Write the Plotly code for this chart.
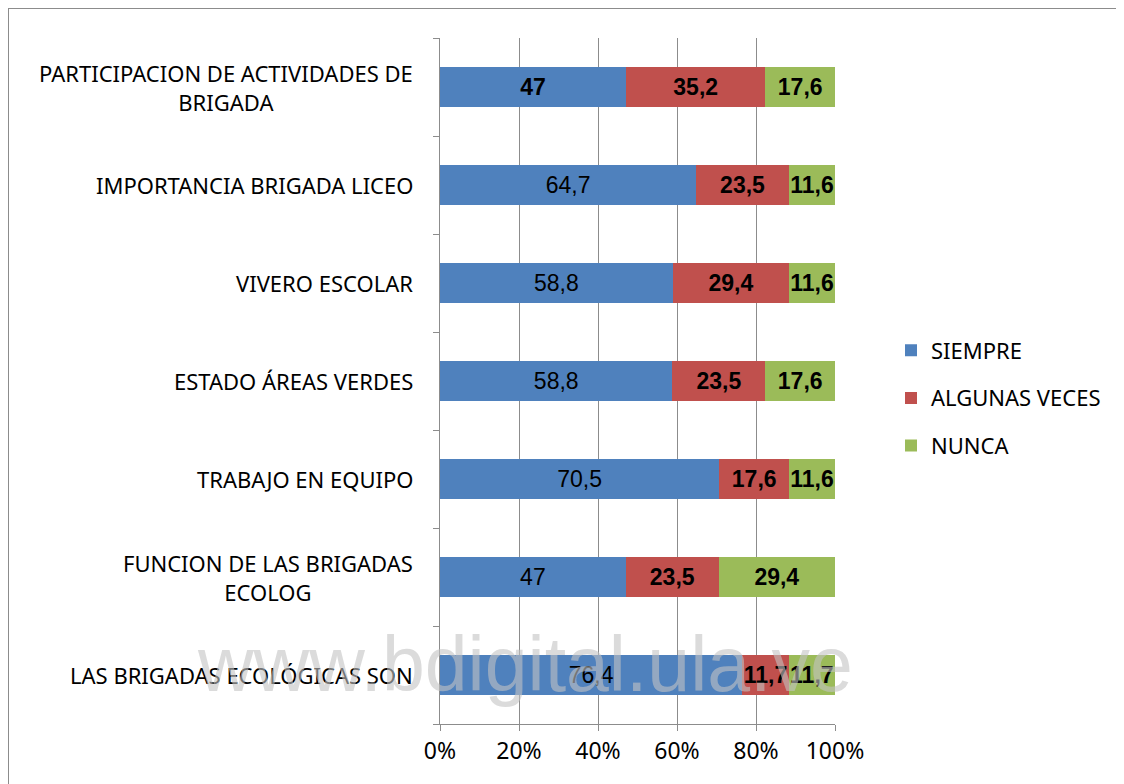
import plotly.graph_objects as go

# categories listed bottom -> top (plotly draws the first category at the bottom)
categories = [
    "LAS BRIGADAS ECOLÓGICAS SON",
    "FUNCION DE LAS BRIGADAS<br>ECOLOG",
    "TRABAJO EN EQUIPO",
    "ESTADO ÁREAS VERDES",
    "VIVERO ESCOLAR",
    "IMPORTANCIA BRIGADA LICEO",
    "PARTICIPACION DE ACTIVIDADES DE<br>BRIGADA",
]
siempre = [76.4, 47, 70.5, 58.8, 58.8, 64.7, 47]
algunas = [11.7, 23.5, 17.6, 23.5, 29.4, 23.5, 35.2]
nunca = [11.7, 29.4, 11.6, 17.6, 11.6, 11.6, 17.6]
# which labels are drawn in bold in the original
siempre_bold = [False, False, False, False, False, False, True]

x_ticks = [0, 20, 40, 60, 80, 100]

colors = {"SIEMPRE": "#4F81BD", "ALGUNAS VECES": "#C0504D", "NUNCA": "#9BBB59"}

# the page body adds an 8px margin, so work in figure coords = screen - 8
OFF = 8
W, H = 1124, 784
px_left, px_right, px_top, px_bottom = 440 - OFF, 835 - OFF, 38 - OFF, 724 - OFF
L, T = px_left, px_top
R, B = W - px_right, H - px_bottom
PW, PH = px_right - px_left, px_bottom - px_top


def fx(sx):
    return (sx - OFF - px_left) / PW


def fy(sy):
    return 1 - (sy - OFF - px_top) / PH


def fmt(v, bold=True):
    s = f"{v:g}".replace(".", ",")
    return f"<b>{s}</b>" if bold else s


series = [
    ("SIEMPRE", siempre, siempre_bold),
    ("ALGUNAS VECES", algunas, [True] * len(algunas)),
    ("NUNCA", nunca, [True] * len(nunca)),
]

label_font = dict(family="Noto Sans, Open Sans, sans-serif", size=22, color="black")

fig = go.Figure()
for name, vals, bolds in series:
    fig.add_trace(go.Bar(
        y=categories,
        x=vals,
        orientation="h",
        name=name,
        legendgroup=name,
        marker=dict(color=colors[name], line=dict(width=0)),
        text=[fmt(v, b) for v, b in zip(vals, bolds)],
        textposition="inside",
        insidetextanchor="middle",
        textangle=0,
        constraintext="none",
        textfont=dict(family="Liberation Sans, Arial", size=23, color="black"),
        hoverinfo="skip",
    ))

# category labels as centered multi-line annotations
for c in categories:
    fig.add_annotation(
        x=0, xref="paper", y=c, yref="y",
        text=c, showarrow=False,
        xanchor="right", xshift=-25, align="center",
        font=label_font,
    )

# watermark
fig.add_annotation(
    x=fx(525), xref="paper", y=fy(664), yref="paper",
    xanchor="center", yanchor="middle",
    text="www.bdigital.ula.ve", showarrow=False,
    font=dict(family="Liberation Sans, Arial", size=77, color="rgba(195,195,195,0.6)"),
)

# chart border (right and bottom edges lie outside the image)
fig.add_shape(
    type="rect", xref="paper", yref="paper",
    x0=fx(8), x1=fx(W + 20),
    y0=fy(H + 20), y1=fy(8),
    line=dict(color="#8c8c8c", width=2), fillcolor="rgba(0,0,0,0)", layer="below",
)

fig.update_layout(
    width=W, height=H,
    margin=dict(l=L, r=R, t=T, b=B, autoexpand=False),
    barmode="stack",
    barnorm="percent",
    bargap=0.6,
    paper_bgcolor="white",
    plot_bgcolor="white",
    showlegend=True,
    legend=dict(
        x=fx(891), xanchor="left",
        y=fy(398), yanchor="middle",
        traceorder="grouped",
        tracegroupgap=16,
        font=label_font,
        bgcolor="rgba(0,0,0,0)",
    ),
    xaxis=dict(
        range=[0, 100],
        tickvals=x_ticks,
        ticktext=[f"{t}%" for t in x_ticks],
        showgrid=True, gridcolor="#8c8c8c", gridwidth=1,
        showline=True, linecolor="#8c8c8c", linewidth=1,
        ticks="outside", ticklen=6, tickcolor="#8c8c8c",
        zeroline=False,
        tickfont=dict(family="Noto Sans, Open Sans, sans-serif", size=23, color="black"),
        fixedrange=True,
    ),
    yaxis=dict(
        categoryorder="array", categoryarray=categories,
        showticklabels=False,
        showline=True, linecolor="#8c8c8c", linewidth=1,
        ticks="outside", ticklen=6, tickcolor="#8c8c8c",
        tickson="boundaries",
        showgrid=False,
        fixedrange=True,
    ),
)

fig.write_html("out.html")
